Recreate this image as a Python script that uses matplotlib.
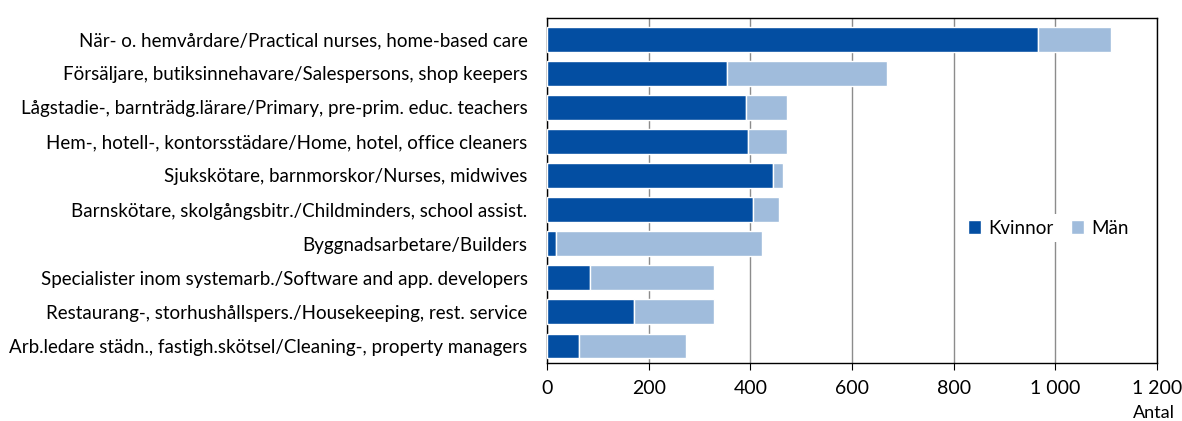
import matplotlib
matplotlib.use("Agg")
import matplotlib.pyplot as plt
from matplotlib.ticker import FuncFormatter

plt.rcParams['font.family'] = ['Lato', 'DejaVu Sans']

categories = [
    "När- o. hemvårdare/Practical nurses, home-based care",
    "Försäljare, butiksinnehavare/Salespersons, shop keepers",
    "Lågstadie-, barnträdg.lärare/Primary, pre-prim. educ. teachers",
    "Hem-, hotell-, kontorsstädare/Home, hotel, office cleaners",
    "Sjukskötare, barnmorskor/Nurses, midwives",
    "Barnskötare, skolgångsbitr./Childminders, school assist.",
    "Byggnadsarbetare/Builders",
    "Specialister inom systemarb./Software and app. developers",
    "Restaurang-, storhushållspers./Housekeeping, rest. service",
    "Arb.ledare städn., fastigh.skötsel/Cleaning-, property managers",
]
kvinnor = [966, 354, 391, 395, 444, 405, 18, 85, 172, 63]
man = [144, 314, 81, 77, 21, 51, 404, 244, 157, 211]
xticks = [0, 200, 400, 600, 800, 1000, 1200]

dark = "#034ea2"
light = "#a0bcdc"

fig = plt.figure(figsize=(11.82, 4.21), dpi=100)
ax = fig.add_axes([547 / 1182, 1 - 363 / 421, 610 / 1182, 345 / 421])

y = list(range(len(categories)))
ax.barh(y, kvinnor, height=0.73, color=dark, edgecolor="white", linewidth=1, label="Kvinnor", zorder=3)
ax.barh(y, man, left=kvinnor, height=0.73, color=light, edgecolor="white", linewidth=1, label="Män", zorder=3)

ax.set_xlim(0, 1200)
ax.set_ylim(9.5, -0.62)
ax.set_yticks(y)
ax.set_yticklabels(categories, fontsize=13.5)
ax.tick_params(axis="y", length=0, pad=14)
ax.set_xticks(xticks)
ax.xaxis.set_major_formatter(FuncFormatter(lambda v, p: f"{int(v):,}".replace(",", " ")))
ax.tick_params(axis="x", labelsize=14, length=5, direction="out", pad=7)
ax.grid(axis="x", color="#8c8c8c", linewidth=1, zorder=0)
for s in ax.spines.values():
    s.set_color("black")
    s.set_linewidth(1)

leg = ax.legend(loc="center", bbox_to_anchor=(0.822, 1 - (228 - 18) / 345), ncol=2,
                frameon=True, fontsize=13.5, handlelength=0.7, handleheight=0.7,
                handletextpad=0.4, columnspacing=0.9, borderpad=0.3)
leg.get_frame().set_facecolor("white")
leg.get_frame().set_edgecolor("none")
leg.get_frame().set_alpha(1)
leg.set_zorder(5)

fig.text(1175 / 1182, 1 - 413 / 421, "Antal", ha="right", va="center", fontsize=13)

fig.savefig("out.png", dpi=100)
